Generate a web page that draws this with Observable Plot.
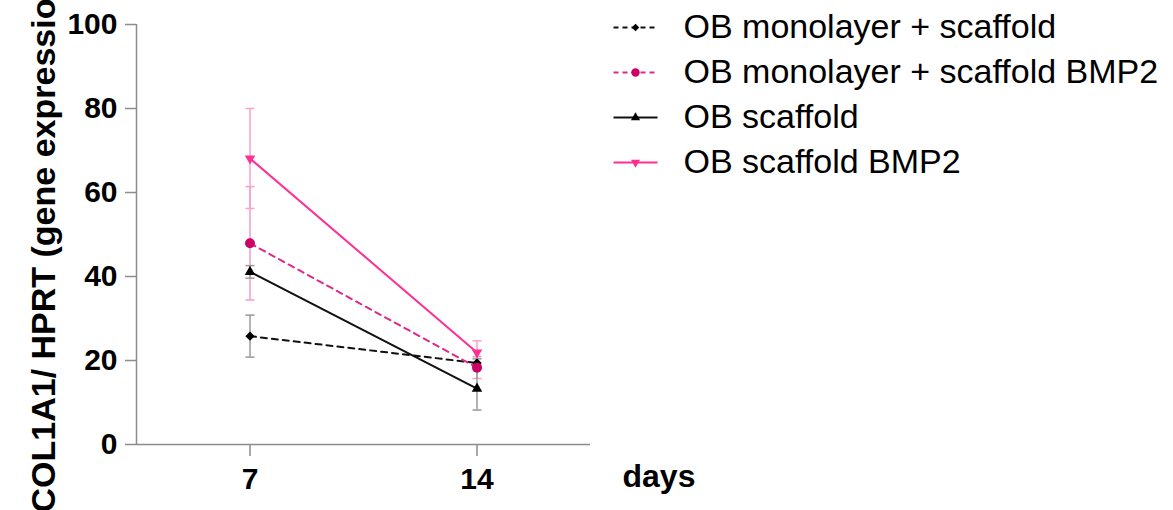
<!DOCTYPE html>
<html>
<head>
<meta charset="utf-8">
<script src="https://cdn.jsdelivr.net/npm/d3@7"></script>
<script src="https://cdn.jsdelivr.net/npm/@observablehq/plot@0.6"></script>
<style>
  html, body { margin: 0; padding: 0; background: white; }
  #wrap { position: relative; width: 1173px; height: 510px; overflow: hidden; }
  #legend { position: absolute; left: 600px; top: 0px; }
</style>
</head>
<body>
<div id="wrap"><div id="main"></div><div id="legend"></div></div>
<script>
// ---- data ----
const days = [7, 14];
const seriesNames = [
  "OB monolayer + scaffold",
  "OB monolayer + scaffold BMP2",
  "OB scaffold",
  "OB scaffold BMP2"
];
const meanMonoScaffold = [25.8, 19.4];
const sdMonoScaffold = [5.0, 1.0];
const meanMonoScaffoldBMP2 = [47.9, 18.3];
const sdMonoScaffoldBMP2 = [13.5, 2.6];
const meanScaffold = [41.1, 13.3];
const sdScaffold = [1.5, 5.1];
const meanScaffoldBMP2 = [68.1, 21.9];
const sdScaffoldBMP2 = [11.9, 2.8];
const yTicks = [0, 20, 40, 60, 80, 100];
const xTicks = [7, 14];
const yLabel = "COL1A1/ HPRT (gene expression)";
const xLabel = "days";

// ---- styles ----
const triangleDown = {
  draw(context, size) {
    const s = Math.sqrt(size * 4 / Math.sqrt(3));
    const h = s * Math.sqrt(3) / 2;
    context.moveTo(0, h * 2 / 3);
    context.lineTo(s / 2, -h / 3);
    context.lineTo(-s / 2, -h / 3);
    context.closePath();
  }
};
const capSymbol = {
  draw(context, size) {
    const r = Math.sqrt(size / Math.PI);
    context.moveTo(-r, 0);
    context.lineTo(r, 0);
  }
};
const styles = [
  {line: "#111111", marker: "#000000", err: "#9a9a9a", dash: "6,5", legendDash: "5,4", symbol: "diamond2", r: 4.2, lr: 3.4},
  {line: "#de2a87", marker: "#cc0066", err: "#f29cc6", dash: "6,5", legendDash: "5,4", symbol: "circle", r: 5, lr: 4.2},
  {line: "#111111", marker: "#000000", err: "#9a9a9a", dash: null, legendDash: null, symbol: "triangle", r: 3.9, lr: 3.4},
  {line: "#ff2e93", marker: "#ff2e93", err: "#f7a3cb", dash: null, legendDash: null, symbol: triangleDown, r: 3.9, lr: 3.4}
];
const means = [meanMonoScaffold, meanMonoScaffoldBMP2, meanScaffold, meanScaffoldBMP2];
const sds = [sdMonoScaffold, sdMonoScaffoldBMP2, sdScaffold, sdScaffoldBMP2];

const rowsBySeries = seriesNames.map((name, i) =>
  days.map((day, j) => ({series: name, day, mean: means[i][j], sd: sds[i][j]}))
);

const font = "'Liberation Sans', Arial, Helvetica, sans-serif";
const axisColor = "#8c8c8c";

const errMarks = [];
const lineMarks = [];
const dotMarks = [];
rowsBySeries.forEach((rows, i) => {
  const st = styles[i];
  errMarks.push(
    Plot.ruleX(rows, {x: "day", y1: d => d.mean - d.sd, y2: d => d.mean + d.sd, stroke: st.err, strokeWidth: 1.5}),
    Plot.dot(rows, {x: "day", y: d => d.mean - d.sd, symbol: capSymbol, r: 4.5, stroke: st.err, strokeWidth: 1.5, fill: "none"}),
    Plot.dot(rows, {x: "day", y: d => d.mean + d.sd, symbol: capSymbol, r: 4.5, stroke: st.err, strokeWidth: 1.5, fill: "none"})
  );
  lineMarks.push(
    Plot.line(rows, {x: "day", y: "mean", stroke: st.line, strokeWidth: 2, strokeDasharray: st.dash})
  );
  dotMarks.push(
    Plot.dot(rows, {x: "day", y: "mean", symbol: st.symbol, r: st.r, fill: st.marker, stroke: "none"})
  );
});

const main = Plot.plot({
  width: 1173,
  height: 510,
  marginLeft: 136,
  marginRight: 583,
  marginTop: 24,
  marginBottom: 66,
  style: {fontFamily: font, background: "white", overflow: "visible"},
  x: {domain: [3.5, 17.5], label: null},
  y: {domain: [0, 100], label: null},
  marks: [
    Plot.ruleY([0], {stroke: axisColor, strokeWidth: 1.5}),
    Plot.ruleX([3.5], {stroke: axisColor, strokeWidth: 1.5}),
    Plot.axisY({ticks: yTicks, tickSize: 11, tickPadding: 8, stroke: axisColor, strokeWidth: 1.5, fill: "black", fontSize: 30, fontWeight: "bold", label: null}),
    Plot.axisX({ticks: xTicks, tickSize: 12, tickPadding: 11, stroke: axisColor, strokeWidth: 1.5, fill: "black", fontSize: 30, fontWeight: "bold", label: null}),
    ...errMarks,
    ...lineMarks,
    ...dotMarks,
    Plot.text([yLabel], {text: d => d, frameAnchor: "bottom-left", rotate: -90, textAnchor: "start", dx: -82, dy: 68, fontSize: 34, fontWeight: "bold", fill: "black"}),
    Plot.text([xLabel], {text: d => d, frameAnchor: "bottom-right", textAnchor: "start", lineAnchor: "bottom", dx: 32, dy: 42, fontSize: 32, fontWeight: "bold", fill: "black"})
  ]
});
document.getElementById("main").appendChild(main);

// ---- legend ----
const legendMarks = [];
seriesNames.forEach((name, i) => {
  const st = styles[i];
  legendMarks.push(
    Plot.link([name], {x1: 0, x2: 1, y1: d => d, y2: d => d, stroke: st.line, strokeWidth: 2, strokeDasharray: st.legendDash}),
    Plot.dot([name], {x: 0.5, y: d => d, symbol: st.symbol, r: st.lr, fill: st.marker, stroke: "none"})
  );
});
legendMarks.push(
  Plot.text(seriesNames, {x: 1, y: d => d, text: d => d, dx: 26, textAnchor: "start", fontSize: 34, fill: "black"})
);
const legend = Plot.plot({
  width: 573,
  height: 190,
  marginLeft: 13,
  marginRight: 516,
  marginTop: 27,
  marginBottom: 28,
  style: {fontFamily: font, background: "transparent", overflow: "visible"},
  x: {domain: [0, 1], axis: null},
  y: {type: "point", domain: seriesNames, padding: 0, axis: null},
  marks: legendMarks
});
document.getElementById("legend").appendChild(legend);
</script>
</body>
</html>
